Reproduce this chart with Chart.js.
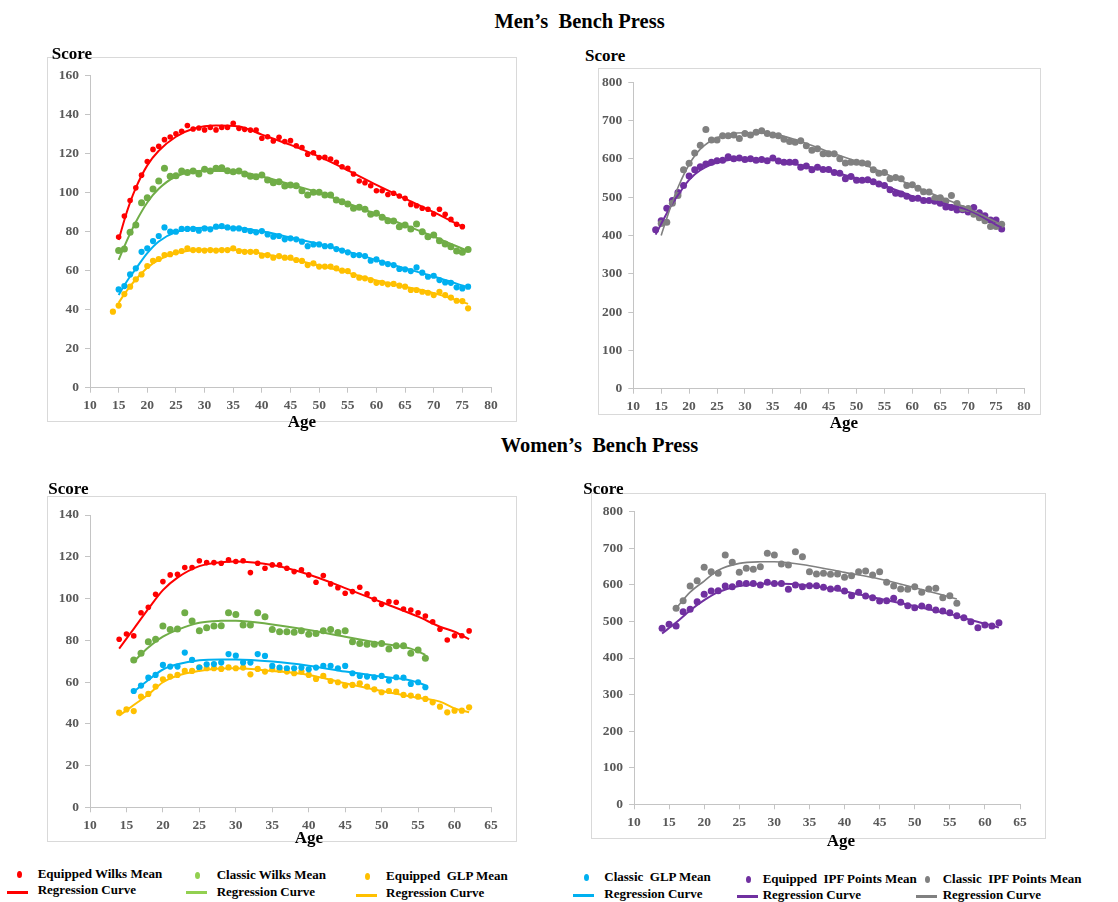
<!DOCTYPE html>
<html>
<head>
<meta charset="utf-8">
<script src="https://cdn.jsdelivr.net/npm/chart.js@4.4.1/dist/chart.umd.min.js"></script>
<style>
  body { margin: 0; width: 1118px; height: 902px; position: relative; overflow: hidden; background: #fff;
         font-family: "Liberation Serif", "Times New Roman", serif; font-weight: bold; color: #000; }
  .t { position: absolute; white-space: pre; line-height: 1; }
  .title { font-size: 20.5px; transform: translateX(-50%); }
  .score { font-size: 17px; }
  .age { font-size: 17px; transform: translateX(-50%); }
  .box { position: absolute; border: 1px solid #d9d9d9; box-sizing: border-box; }
  canvas { position: absolute; }
  .lg { font-size: 13px; }
  .dot { position: absolute; width: 5px; height: 7px; border-radius: 50%; }
  .bar { position: absolute; width: 21px; height: 3px; }
</style>
</head>
<body>

<div class="t title" style="left:579.5px; top:10.5px;">Men’s  Bench Press</div>
<div class="t title" style="left:599.5px; top:434.5px;">Women’s  Bench Press</div>

<div class="box" style="left:47px; top:57px; width:470px; height:365px;"></div>
<div class="box" style="left:598px; top:68px; width:443px; height:347px;"></div>
<div class="box" style="left:47px; top:496px; width:470px; height:346px;"></div>
<div class="box" style="left:591px; top:493px; width:455px; height:346px;"></div>

<canvas id="menLeft" width="470" height="365" style="left:47px; top:57px;"></canvas>
<canvas id="menRight" width="443" height="347" style="left:598px; top:68px;"></canvas>
<canvas id="womenLeft" width="470" height="346" style="left:47px; top:496px;"></canvas>
<canvas id="womenRight" width="455" height="346" style="left:591px; top:493px;"></canvas>

<div class="t score" style="left:51.7px; top:44.8px;">Score</div>
<div class="t score" style="left:585px; top:46.8px;">Score</div>
<div class="t score" style="left:48.3px; top:480.1px;">Score</div>
<div class="t score" style="left:583.3px; top:480.1px;">Score</div>
<div class="t age" style="left:302px; top:412.5px;">Age</div>
<div class="t age" style="left:844px; top:413.5px;">Age</div>
<div class="t age" style="left:309px; top:829px;">Age</div>
<div class="t age" style="left:841px; top:831.5px;">Age</div>

<!-- legend -->
<div class="dot" style="left:16.5px; top:870.8px; background:#ff0000;"></div>
<div class="bar" style="left:7px; top:891.2px; background:#ff0000;"></div>
<div class="t lg" style="left:37.7px; top:867.4px;">Equipped Wilks Mean</div>
<div class="t lg" style="left:37.7px; top:883.4px;">Regression Curve</div>

<div class="dot" style="left:194.5px; top:872.2px; background:#92d050;"></div>
<div class="bar" style="left:186px; top:891.2px; background:#92d050;"></div>
<div class="t lg" style="left:216.7px; top:868.4px;">Classic Wilks Mean</div>
<div class="t lg" style="left:216.7px; top:885.1px;">Regression Curve</div>

<div class="dot" style="left:365.2px; top:873.2px; background:#ffc000;"></div>
<div class="bar" style="left:356px; top:893.5px; background:#ffc000;"></div>
<div class="t lg" style="left:386px; top:869.1px;">Equipped  GLP Mean</div>
<div class="t lg" style="left:386px; top:885.7px;">Regression Curve</div>

<div class="dot" style="left:583.5px; top:874.2px; background:#00b0f0;"></div>
<div class="bar" style="left:573.3px; top:894.2px; background:#00b0f0;"></div>
<div class="t lg" style="left:604.3px; top:870.1px;">Classic  GLP Mean</div>
<div class="t lg" style="left:604.3px; top:886.7px;">Regression Curve</div>

<div class="dot" style="left:745.8px; top:875.5px; background:#7030a0;"></div>
<div class="bar" style="left:736.7px; top:895.2px; background:#7030a0;"></div>
<div class="t lg" style="left:762.7px; top:871.7px;">Equipped  IPF Points Mean</div>
<div class="t lg" style="left:762.7px; top:887.7px;">Regression Curve</div>

<div class="dot" style="left:925.2px; top:875.5px; background:#808080;"></div>
<div class="bar" style="left:916px; top:895.2px; background:#808080;"></div>
<div class="t lg" style="left:942.7px; top:871.7px;">Classic  IPF Points Mean</div>
<div class="t lg" style="left:942.7px; top:887.7px;">Regression Curve</div>

<script>
// ages of the men's means (14 .. 76)
const menAges = [
  14, 15, 16, 17, 18, 19, 20, 21, 22, 23,
  24, 25, 26, 27, 28, 29, 30, 31, 32, 33,
  34, 35, 36, 37, 38, 39, 40, 41, 42, 43,
  44, 45, 46, 47, 48, 49, 50, 51, 52, 53,
  54, 55, 56, 57, 58, 59, 60, 61, 62, 63,
  64, 65, 66, 67, 68, 69, 70, 71, 72, 73,
  74, 75, 76
]
const menEqWilks = [
  null, 77.3, 88, 96, 102.5, 109, 116, 122.2, 123.8, 127.2,
  128.6, 130.2, 131.5, 134.5, 132.7, 133.2, 132.2, 133.5, 132.2, 133.5,
  133.5, 135.6, 133, 132.5, 132.1, 132.1, 127.9, 128.7, 126.5, 128.4,
  126.2, 126.7, 124.1, 123.2, 119.7, 120.5, 118, 118.1, 117.3, 115.6,
  113.3, 112.5, 109.6, 106, 105.1, 103.6, 101, 101, 99.1, 99.7,
  98.3, 97.1, 94, 93.3, 92, 91.5, 89.1, 91.5, 88.9, 86.3,
  83.8, 82.6, null
]
const menClWilks = [
  null, 70.3, 71.1, 79.7, 83.4, 94.9, 97.4, 101.9, 106, 112.5,
  108.5, 108.7, 111.1, 110.4, 111.1, 109.6, 112, 111.1, 112.5, 112.8,
  111.3, 110.8, 111.1, 109.6, 108.5, 108.2, 109.1, 106.5, 105.1, 105.6,
  103.4, 103.9, 103.6, 101, 98.8, 100.2, 100.2, 98.8, 98.8, 96.2,
  95.4, 94.2, 92, 92.5, 91.5, 88.9, 89.4, 87.4, 85.6, 85.5,
  82.6, 83.4, 81.4, 83.9, 80, 77.4, 78.3, 75.4, 73.7, 72.3,
  70.1, 69.4, 70.9
]
const menClGlp = [
  null, 50.4, 52.1, 58.1, 61.2, 69.7, 71.5, 75.2, 77.8, 82.2,
  80, 80, 81.4, 81.4, 81.4, 80.5, 81.7, 81.2, 82.6, 82.9,
  82.2, 81.7, 81.7, 80.9, 80.3, 79.7, 80.3, 78.6, 77.4, 77.8,
  76.1, 76.6, 76.1, 74.9, 72.6, 73.5, 73.5, 72.6, 72.6, 71.1,
  70.3, 69.4, 68, 68, 67.5, 65.1, 65.8, 64.1, 63.4, 62.9,
  60.9, 60.7, 59.8, 61.7, 59, 56.9, 57.4, 55.2, 54, 53.8,
  51.5, 50.9, 51.8
]
const menEqGlp = [
  39, 42.1, 48, 51.8, 55.6, 58.1, 62.4, 65.1, 66, 68,
  68.5, 69.4, 70.1, 71.5, 70.6, 70.6, 70.3, 70.6, 70.3, 70.6,
  70.6, 71.5, 70.1, 69.7, 69.7, 69.7, 67.7, 68, 66.7, 67.5,
  66.7, 66.7, 65.5, 65, 62.9, 63.8, 62.1, 62.1, 62.1, 61.2,
  60, 59.8, 57.8, 56.4, 56.1, 55.2, 53.8, 53.8, 53, 53.2,
  52.3, 51.8, 50.1, 50.1, 49.2, 48.7, 47.5, 49.2, 47.5, 46.2,
  44.6, 44.4, 40.7
]
const menEqIpf = [
  415, 438, 471, 491, 512, 530, 555, 571, 579, 586,
  591, 595, 596, 605, 600, 602, 598, 600, 596, 598,
  595, 602, 594, 591, 591, 591, 578, 581, 571, 578,
  572, 572, 564, 562, 548, 554, 544, 544, 545, 540,
  534, 530, 519, 510, 508, 502, 496, 497, 491, 491,
  489, 484, 474, 473, 466, 467, 461, 473, 459, 451,
  440, 440, 417
]
const menClIpf = [
  null, 431, 434, 484, 504, 571, 588, 615, 635, 676,
  649, 649, 660, 660, 662, 653, 666, 662, 669, 673,
  666, 662, 660, 651, 645, 643, 647, 634, 622, 626,
  613, 613, 613, 600, 589, 591, 591, 589, 587, 571,
  562, 564, 548, 551, 548, 530, 532, 523, 514, 513,
  497, 498, 490, 504, 483, 470, 470, 455, 446, 438,
  423, 423, 429
]

// ages of the women's means (14 .. 62)
const womenAges = [
  14, 15, 16, 17, 18, 19, 20, 21, 22, 23,
  24, 25, 26, 27, 28, 29, 30, 31, 32, 33,
  34, 35, 36, 37, 38, 39, 40, 41, 42, 43,
  44, 45, 46, 47, 48, 49, 50, 51, 52, 53,
  54, 55, 56, 57, 58, 59, 60, 61, 62
]
const womenEqWilks = [
  80.5, 83, 82.1, 93.2, 95.8, 102, 108.1, 111.3, 111.6, 114.8,
  114.8, 118.1, 117.2, 117.2, 116.9, 118.5, 117.7, 118.1, 112.4, 116.9,
  114.5, 116.1, 116.1, 114.5, 112.9, 113.7, 111.3, 107.8, 111, 107,
  105.2, 102.5, 103.3, 105.4, 102.2, 99.6, 97.2, 98.5, 98.2, 95,
  94.5, 93.2, 91.6, 88.9, 85.3, 80.1, 82.2, 82.2, 84.5
]
const womenClWilks = [
  null, null, 70.6, 73.8, 79.3, 80.5, 86.8, 85.2, 85.4, 93.2,
  89.2, 84.6, 86, 86.8, 87, 93.2, 92.4, 87.3, 87.3, 93.2,
  91.3, 85.2, 84.1, 84.1, 83.8, 84.6, 82.9, 83.3, 84.6, 85.2,
  83.7, 84.6, 79.3, 78.5, 78.1, 78.1, 78.5, 75.8, 77.4, 77.4,
  73.8, 75.4, 71.4, null, null, null, null, null, null
]
const womenClGlp = [
  null, null, 55.7, 58.3, 62.1, 63.4, 68.2, 67.4, 67.4, 74.1,
  70.6, 66.9, 68.5, 68.6, 69.3, 73.4, 72.6, 69.4, 69.3, 73.4,
  72.5, 67.7, 66.9, 66.6, 66.6, 66.9, 66.1, 66.9, 67.8, 67.8,
  66.6, 67.7, 64.2, 62.9, 62.6, 62.3, 62.9, 60.7, 62.3, 62.1,
  59.1, 59.9, 57.5, null, null, null, null, null, null
]
const womenEqGlp = [
  45.3, 46.9, 46.1, 53, 54.3, 57.8, 61.3, 62.6, 63.4, 65.3,
  65.3, 67, 66.6, 66.6, 66.3, 67, 66.6, 66.9, 63.7, 66.3,
  65, 66.1, 65.8, 65, 64.2, 65, 63.4, 61.5, 62.9, 60.5,
  59.9, 58.3, 58.6, 59.4, 57.8, 56.5, 55.1, 55.7, 55.4, 53.8,
  53.5, 53, 51.9, 50.3, 48.2, 45.5, 46.3, 46.3, 47.9
]
const womenEqIpf = [
  481, 492, 487.5, 526.7, 533, 554, 574, 583, 584, 596.8,
  595, 604, 604, 604, 599.5, 606.8, 604, 604, 587.7, 599.5,
  595, 597.7, 597.7, 593.2, 588.6, 590.4, 583.1, 570.4, 579.5, 569.5,
  565, 555.8, 556.7, 563.1, 552.2, 543, 537.6, 542.1, 538.5, 531.2,
  528.5, 523.9, 515.7, 510.3, 499.3, 482.9, 490.2, 487.5, 496.6
]
const womenClIpf = [
  null, null, 535.8, 556.7, 596.8, 611.4, 647.8, 636, 631.4, 681.5,
  661.5, 634.2, 645.1, 642.4, 649.7, 686.1, 681.5, 657, 654.2, 690.7,
  677, 636, 629.6, 631.4, 628.7, 629.6, 620.5, 625.1, 636, 637.8,
  626.9, 636, 606.8, 596.8, 588.6, 587.7, 595, 579.5, 588.6, 590.4,
  565, 570.4, 549.4, null, null, null, null, null, null
]

// regression curves at a few ages
const fitAgesMenEqWilks = [15, 16, 17, 18, 20, 22, 25, 28, 32, 36, 40, 45, 50, 55, 60, 65, 70, 75]
const fitMenEqWilks = [75.7, 86, 95, 102.5, 114, 121.5, 128.7, 132.8, 134.5, 134, 129.8, 124.5, 118.5, 111.5, 104, 97, 90, 82.5]
const fitAgesMen = [15, 16, 17, 18, 20, 22, 25, 30, 35, 40, 45, 50, 55, 60, 65, 70, 76]
const fitMenClWilks = [65.5, 72.5, 79, 85, 95, 102, 108.3, 111.3, 111, 108.3, 104.3, 100, 94.5, 89, 83.3, 77.5, 70]
const fitMenClGlp = [47.5, 52.5, 57, 61, 69, 75, 79.8, 82, 82, 80.2, 77, 73.7, 69.8, 65.5, 61.2, 57, 51.5]
const fitMenEqGlp = [43.5, 48, 52, 55.5, 61.5, 65.5, 69, 70.7, 70.8, 68.7, 66, 62.6, 59, 55, 51.8, 48.5, 43]
const fitMenClIpf = [400, 445, 487, 525, 585, 625, 655, 668, 665, 645, 618, 593, 562, 530, 500, 470, 428]
const fitAgesMenEqIpf = [14, 15, 16, 17, 18, 20, 22, 25, 30, 35, 40, 45, 50, 55, 60, 65, 70, 76]
const fitMenEqIpf = [402, 430, 458, 483, 505, 545, 570, 590, 600, 597, 583, 568, 549, 530, 502, 485, 466, 420]

const fitAgesWomenLong = [14, 16, 18, 20, 22, 25, 28, 30, 35, 40, 45, 50, 55, 58, 60, 62]
const fitWomenEqWilks = [76, 85.5, 95, 104, 110, 115.5, 117.4, 117.7, 116, 111.5, 105, 98.2, 91.3, 86.5, 84.1, 80.5]
const fitWomenEqGlp = [43.9, 49, 54, 59.9, 63, 65.3, 66.5, 66.6, 65.3, 63.4, 59.4, 55.7, 52.5, 50.6, 47.4, 45.5]
const fitWomenEqIpf = [467, 497, 530, 558, 580, 597, 603, 604, 598, 582, 562, 542, 520, 504, 494, 483]
const fitAgesWomenShort = [16, 18, 20, 22, 25, 28, 30, 35, 40, 45, 50, 54, 56]
const fitWomenClWilks = [69.8, 76.5, 81.7, 85, 88.4, 89.3, 89.4, 87.6, 84.9, 81.7, 78.5, 76, 73]
const fitWomenClGlp = [55.4, 61, 66, 68.5, 70.4, 70.8, 70.8, 69.8, 67.8, 65, 62.6, 60.8, 58.5]
const fitWomenClIpf = [535.8, 580, 610.5, 640, 658.8, 663, 663.3, 652.4, 634.2, 616, 592.3, 572, 561.3]

const COLORS = {
    red: '#ff0000',
    green: '#70ad47',
    blue: '#00b0f0',
    yellow: '#ffc000',
    purple: '#7030a0',
    gray: '#808080'
}

function pairs (ages, values) {
    return ages.map((a, i) => ({ x: a, y: values[i] })).filter(p => p.y !== null)
}

function dots (ages, values, color, radius) {
    return {
        data: pairs(ages, values),
        pointBackgroundColor: color,
        pointBorderWidth: 0,
        pointRadius: radius,
        showLine: false,
        order: 1
    }
}

function curve (ages, values, color, width) {
    return {
        data: pairs(ages, values),
        borderColor: color,
        borderWidth: width,
        pointRadius: 0,
        showLine: true,
        cubicInterpolationMode: 'monotone',
        fill: false,
        order: 0
    }
}

const tickFont = { family: 'Liberation Serif', size: 13.5, weight: 'bold' }
const axisColor = '#c4c4c4'

function drawPanel (id, panel, datasets) {
    const config = {
        type: 'scatter',
        data: { datasets: datasets },
        options: {
            responsive: false,
            animation: false,
            devicePixelRatio: 1,
            layout: { padding: { top: panel.padTop, right: panel.padRight, left: 0, bottom: 0 } },
            plugins: {
                legend: { display: false },
                tooltip: { enabled: false }
            },
            scales: {
                x: {
                    type: 'linear',
                    min: panel.xMin,
                    max: panel.xMax,
                    ticks: { stepSize: 5, autoSkip: false, padding: 5, color: '#595959', font: tickFont },
                    grid: { drawOnChartArea: false, drawTicks: true, tickLength: 5, color: axisColor },
                    border: { color: axisColor },
                    afterFit: (scale) => { scale.height = panel.xh }
                },
                y: {
                    min: 0,
                    max: panel.yMax,
                    ticks: { stepSize: panel.yStep, autoSkip: false, padding: 6, color: '#595959', font: tickFont },
                    grid: { drawOnChartArea: false, drawTicks: true, tickLength: 5, color: axisColor },
                    border: { color: axisColor },
                    afterFit: (scale) => { scale.width = panel.yw }
                }
            }
        }
    }
    return new Chart(document.getElementById(id).getContext('2d'), config)
}

drawPanel('menLeft',
    { xMin: 10, xMax: 80, yMax: 160, yStep: 20, yw: 43, padTop: 18.7, padRight: 26, xh: 34.3 },
    [
        curve(fitAgesMenEqWilks, fitMenEqWilks, COLORS.red, 2),
        curve(fitAgesMen, fitMenClWilks, COLORS.green, 2),
        curve(fitAgesMen, fitMenClGlp, COLORS.blue, 2),
        curve(fitAgesMen, fitMenEqGlp, COLORS.yellow, 2),
        dots(menAges, menEqWilks, COLORS.red, 2.8),
        dots(menAges, menClWilks, COLORS.green, 3.5),
        dots(menAges, menClGlp, COLORS.blue, 3.1),
        dots(menAges, menEqGlp, COLORS.yellow, 3.1)
    ])

drawPanel('menRight',
    { xMin: 10, xMax: 80, yMax: 800, yStep: 100, yw: 35.3, padTop: 8, padRight: 17, xh: 26.3 },
    [
        curve(fitAgesMen, fitMenClIpf, COLORS.gray, 1.6),
        curve(fitAgesMenEqIpf, fitMenEqIpf, COLORS.purple, 2),
        dots(menAges, menClIpf, COLORS.gray, 3.5),
        dots(menAges, menEqIpf, COLORS.purple, 3.5)
    ])

drawPanel('womenLeft',
    { xMin: 10, xMax: 65, yMax: 140, yStep: 20, yw: 43, padTop: 19, padRight: 26, xh: 34.7 },
    [
        curve(fitAgesWomenLong, fitWomenEqWilks, COLORS.red, 2),
        curve(fitAgesWomenShort, fitWomenClWilks, COLORS.green, 2),
        curve(fitAgesWomenShort, fitWomenClGlp, COLORS.blue, 2),
        curve(fitAgesWomenLong, fitWomenEqGlp, COLORS.yellow, 2),
        dots(womenAges, womenEqWilks, COLORS.red, 2.8),
        dots(womenAges, womenClWilks, COLORS.green, 3.5),
        dots(womenAges, womenClGlp, COLORS.blue, 3.1),
        dots(womenAges, womenEqGlp, COLORS.yellow, 3.1)
    ])

drawPanel('womenRight',
    { xMin: 10, xMax: 65, yMax: 800, yStep: 100, yw: 43, padTop: 18.7, padRight: 26, xh: 34.7 },
    [
        curve(fitAgesWomenShort, fitWomenClIpf, COLORS.gray, 1.6),
        curve(fitAgesWomenLong, fitWomenEqIpf, COLORS.purple, 2),
        dots(womenAges, womenClIpf, COLORS.gray, 3.5),
        dots(womenAges, womenEqIpf, COLORS.purple, 3.5)
    ])
</script>
</body>
</html>
